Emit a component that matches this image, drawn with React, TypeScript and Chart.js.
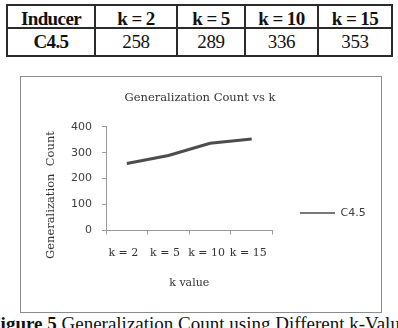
import React, { useEffect, useRef } from "react";
import { Chart, registerables } from "chart.js";

Chart.register(...registerables);

// ---- data ----
const categories = ["k = 2", "k = 5", "k = 10", "k = 15"];
const c45Values = [258, 289, 336, 353];
const seriesName = "C4.5";
const inducerHeader = "Inducer";
const chartTitle = "Generalization Count vs k";
const xTitle = "k value";
const yTitle = "Generalization  Count";
const yMin = 0;
const yMax = 400;
const yStep = 100;
const captionBold = "Figure 5";
const captionText = " Generalization Count using Different k-Values";

// table grid lines (page px)
const colLines = [7, 95, 177, 245, 318, 392];
const rowLines = [5, 28, 56];

const yTitlePlugin = {
  id: "yTitleText",
  afterDraw(chart: any) {
    const { ctx, chartArea } = chart;
    ctx.save();
    ctx.translate(chartArea.left - 55, chartArea.bottom - 35.5);
    ctx.rotate(-Math.PI / 2);
    ctx.font = '11.5px "DejaVu Serif"';
    ctx.fillStyle = "#333333";
    ctx.textAlign = "center";
    ctx.textBaseline = "middle";
    ctx.fillText(yTitle, 0, 0);
    ctx.restore();
  },
};

function LineChart() {
  const ref = useRef<HTMLCanvasElement | null>(null);
  useEffect(() => {
    if (!ref.current) return;
    const chart = new Chart(ref.current, {
      type: "line",
      data: {
        labels: categories,
        datasets: [
          {
            label: seriesName,
            data: c45Values,
            borderColor: "#4d4d4d",
            backgroundColor: "#4d4d4d",
            borderWidth: 3,
            pointRadius: 0,
            tension: 0,
          },
        ],
      },
      options: {
        responsive: false,
        animation: false,
        devicePixelRatio: 1,
        layout: { padding: { left: 4.3, right: 4.3, top: 0, bottom: 0 } },
        plugins: {
          tooltip: { enabled: false },
          title: {
            display: true,
            text: chartTitle,
            color: "#333333",
            font: { family: "DejaVu Serif", size: 11.5, weight: "normal" },
            padding: { top: 15, bottom: 21.9 },
          },
          legend: {
            display: true,
            position: "right",
            align: "center",
            fullSize: true,
            maxWidth: 140,
            title: {
              display: true,
              text: "",
              font: { size: 10 },
              padding: 12.5,
            },
            labels: {
              color: "#404040",
              font: { family: "DejaVu Sans", size: 11 },
              usePointStyle: true,
              pointStyle: "line",
              pointStyleWidth: 35,
              padding: 27.5,
              generateLabels: (c: any) =>
                (Chart.defaults.plugins.legend.labels as any)
                  .generateLabels(c)
                  .map((l: any) => ({ ...l, lineWidth: 1.5, pointStyle: "line" })),
            },
          },
        },
        scales: {
          x: {
            type: "category",
            offset: true,
            afterFit: (s: any) => {
              s.height = 82.5;
            },
            grid: {
              offset: true,
              drawOnChartArea: false,
              drawTicks: true,
              tickLength: 4,
              color: "#9a9a9a",
            },
            border: { display: true, color: "#9a9a9a", width: 1 },
            ticks: {
              color: "#333333",
              font: { family: "DejaVu Serif", size: 11 },
              padding: 12,
              labelOffset: -3.5,
              maxRotation: 0,
              autoSkip: false,
            },
            title: {
              display: true,
              text: xTitle,
              color: "#333333",
              font: { family: "DejaVu Serif", size: 11 },
              padding: { top: 10, bottom: 23.4 },
            },
          },
          y: {
            min: yMin,
            max: yMax,
            afterFit: (s: any) => {
              s.width = 81.7;
            },
            grid: {
              drawOnChartArea: false,
              drawTicks: true,
              tickLength: 4,
              color: "#9a9a9a",
            },
            border: { display: true, color: "#9a9a9a", width: 1 },
            ticks: {
              stepSize: yStep,
              color: "#404040",
              font: { family: "DejaVu Sans", size: 11 },
              padding: 10,
            },
          },
        },
      },
      plugins: [yTitlePlugin],
    });
    return () => chart.destroy();
  }, []);
  return <canvas ref={ref} width={360} height={237} style={{ display: "block", width: 360, height: 237 }} />;
}

export default function App() {
  const headers = [inducerHeader, ...categories];
  const rowCells = [seriesName, ...c45Values.map(String)];
  const cell = (text: string, ci: number, ri: number, bold: boolean) => {
    const left = colLines[ci] - 1;
    const top = rowLines[ri] - 1;
    const width = colLines[ci + 1] - colLines[ci] + 2;
    const height = rowLines[ri + 1] - rowLines[ri] + 2;
    return (
      <div
        key={`${ri}-${ci}`}
        style={{
          position: "absolute",
          left,
          top,
          width,
          height,
          boxSizing: "border-box",
          border: "2px solid #2b2b2b",
          textAlign: "center",
          fontFamily: '"Liberation Serif", serif',
          fontSize: 19,
          lineHeight: "19px",
          paddingTop: 3,
          fontWeight: bold ? "bold" : "normal",
          letterSpacing: bold ? "-0.6px" : "-0.3px",
          color: "#111",
          whiteSpace: "nowrap",
        }}
      >
        {text}
      </div>
    );
  };
  return (
    <div
      style={{
        position: "absolute",
        left: 0,
        top: 0,
        width: 398,
        height: 328,
        overflow: "hidden",
        background: "#ffffff",
      }}
    >
      {headers.map((h, i) => cell(h, i, 0, true))}
      {rowCells.map((v, i) => cell(v, i, 1, i === 0))}
      <div
        style={{
          position: "absolute",
          left: 20,
          top: 76,
          width: 362,
          height: 237,
          boxSizing: "border-box",
          border: "1px solid #8c8c8c",
        }}
      />
      <div style={{ position: "absolute", left: 20, top: 76 }}>
        <LineChart />
      </div>
      <div
        style={{
          position: "absolute",
          left: -11,
          top: 314,
          fontFamily: '"Liberation Serif", serif',
          fontSize: 19,
          lineHeight: "19px",
          whiteSpace: "nowrap",
          color: "#111",
        }}
      >
        <b>{captionBold}</b>
        {captionText}
      </div>
    </div>
  );
}
